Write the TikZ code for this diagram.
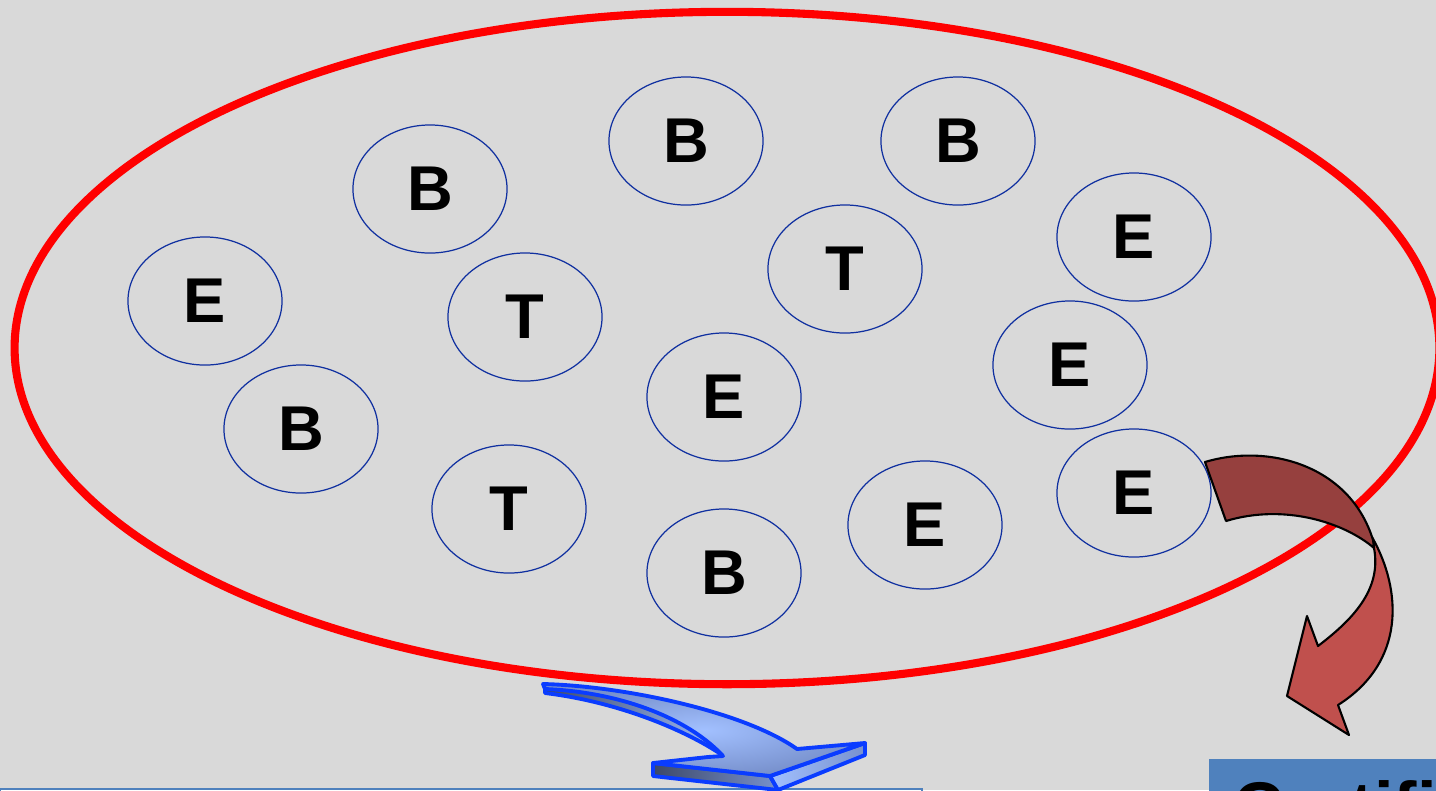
\documentclass[tikz,border=0pt]{standalone}
\usepackage{fontspec}
\setmainfont{Liberation Sans}
\usetikzlibrary{shapes.geometric}
\definecolor{slidegray}{RGB}{217,217,217}
\definecolor{ringred}{RGB}{255,0,0}
\definecolor{cellblue}{RGB}{16,48,160}
\definecolor{arrowdark}{RGB}{150,64,62}
\definecolor{arrowlight}{RGB}{192,80,77}
\definecolor{flowblue}{RGB}{10,60,255}
\definecolor{flowlight}{RGB}{162,192,255}
\definecolor{flowmid}{RGB}{120,145,205}
\definecolor{flowshade}{RGB}{60,72,105}
\definecolor{boxblue}{RGB}{79,129,189}

\tikzset{
  cell/.style={ellipse, draw=cellblue, line width=0.35pt, minimum width=1.54cm,
    minimum height=1.28cm, inner sep=0pt, font=\fontsize{18}{20}\selectfont\bfseries},
  flowface/.style={draw=flowblue, line width=1.1pt, line join=round}
}

\begin{document}
\begin{tikzpicture}[x=0.01cm, y=-0.01cm]
    \useasboundingbox (0,0) rectangle (1436,790);
    \clip (0,0) rectangle (1436,790);
    \fill[slidegray] (0,0) rectangle (1436,790);

    % population ring
    \draw[ringred, line width=2.3pt] (727,348) ellipse [x radius=7.12cm, y radius=3.36cm];

    % cells
    \node[cell] (b1) at (430,189) {B};
    \node[cell] (b2) at (686,141) {B};
    \node[cell] (b3) at (958,141) {B};
    \node[cell] (e1) at (205,301) {E};
    \node[cell] (t1) at (525,317) {T};
    \node[cell] (t2) at (845,269) {T};
    \node[cell] (e2) at (1134,237) {E};
    \node[cell] (e3) at (1070,365) {E};
    \node[cell] (e4) at (724,397) {E};
    \node[cell] (b4) at (301,429) {B};
    \node[cell] (t3) at (509,509) {T};
    \node[cell] (b5) at (724,573) {B};
    \node[cell] (e5) at (925,525) {E};
    \node[cell] (e6) at (1134,493) {E};

    % bottom boxes
    \draw[boxblue, line width=0.6pt] (0,789) rectangle (922,830);
    \fill[boxblue] (1209,759) rectangle (1440,830);
    \node[anchor=north west, inner sep=0pt, font=\fontsize{20}{24}\selectfont\bfseries] (cert) at (1233,780) {Certification};

    % red curved arrow
    \draw[black, line width=0.6pt, fill=arrowlight, line join=round]
      (1372,537) .. controls (1402,590) and (1406,662) .. (1338,705)
      -- (1349,735) -- (1287,696) -- (1307,616) -- (1318,646)
      .. controls (1352,620) and (1382,590) .. (1374,548) -- cycle;
    \draw[black, line width=0.6pt, fill=arrowdark, line join=round]
      (1205,462) .. controls (1268,443) and (1350,465) .. (1373,540)
      -- (1374,548) .. controls (1345,523) and (1285,503) .. (1226,521) -- cycle;

    % blue ribbon arrow
    \draw[flowface, left color=flowshade, right color=flowlight]
      (545,686) .. controls (625,692) and (700,722) .. (725,757)
      .. controls (690,732) and (620,702) .. (545,693) -- cycle;
    \draw[flowface, left color=flowshade, right color=flowmid]
      (653,763) -- (770,776) -- (778,790) -- (653,776) -- cycle;
    \draw[flowface, left color=flowlight, right color=flowmid]
      (770,776) -- (865,743) -- (865,755) -- (778,790) -- cycle;
    \draw[flowface, inner color=flowlight, outer color=flowmid]
      (543,684) .. controls (625,686) and (745,712) .. (797,749)
      -- (865,743) -- (770,776) -- (653,763) -- (708,757) -- (723,756)
      .. controls (688,718) and (620,692) .. (545,689) -- cycle;
\end{tikzpicture}
\end{document}
